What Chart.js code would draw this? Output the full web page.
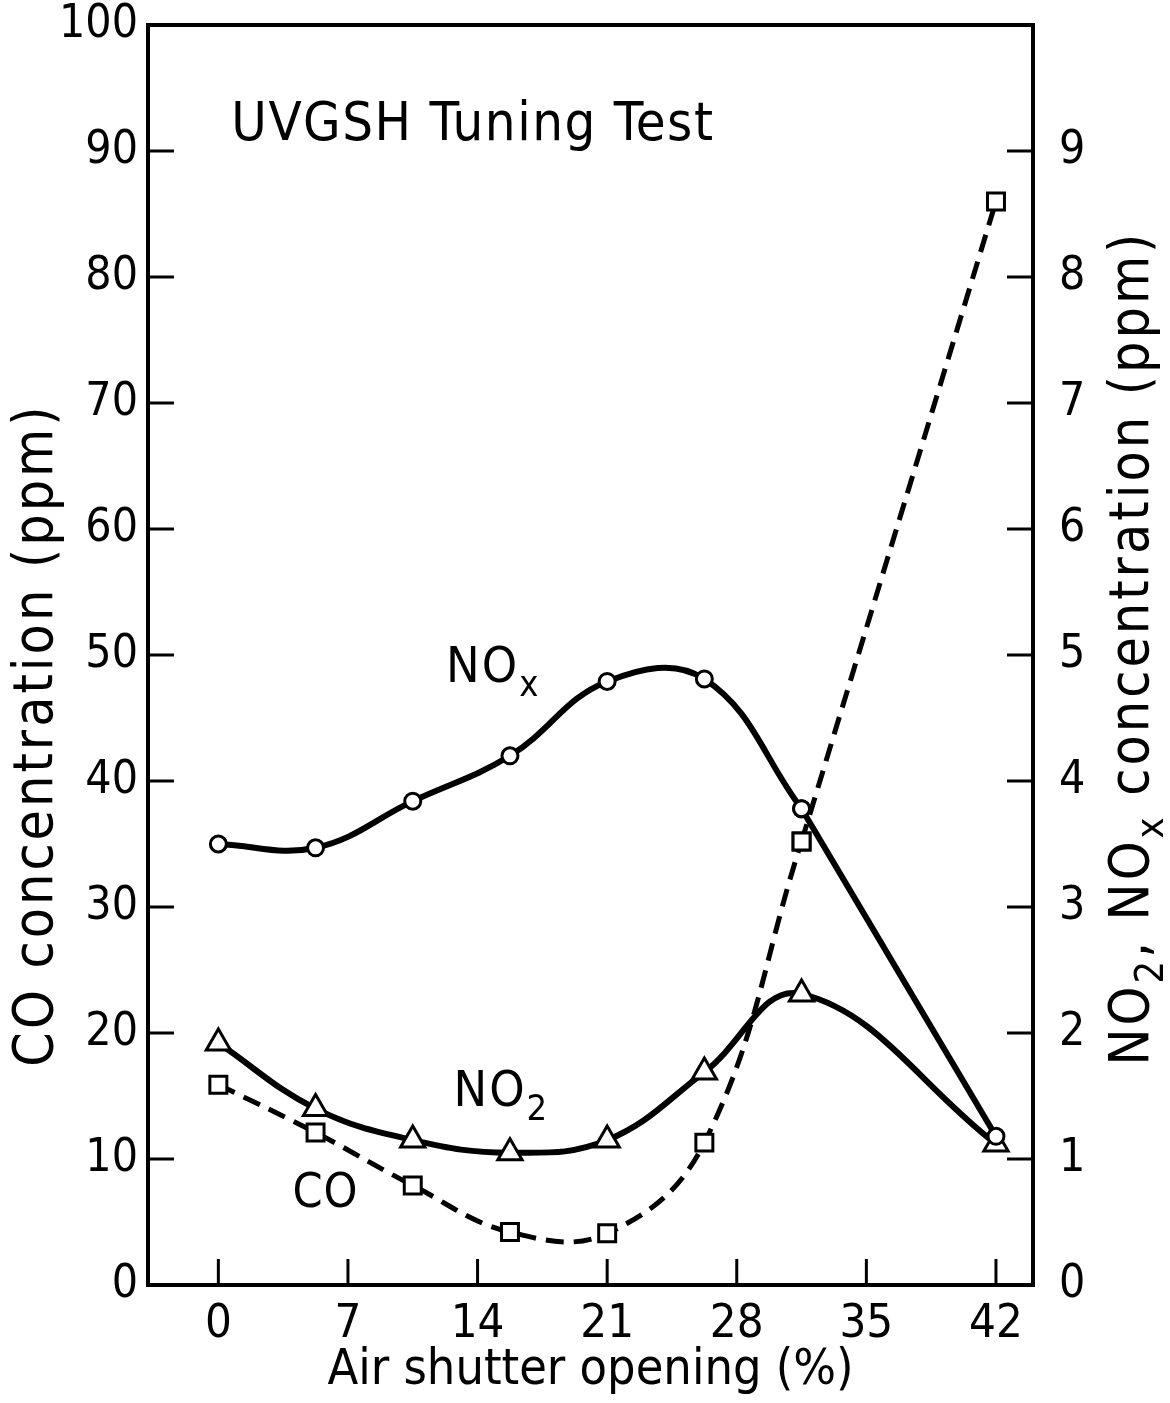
<!DOCTYPE html>
<html>
<head>
<meta charset="utf-8">
<script src="https://cdn.jsdelivr.net/npm/chart.js@4.4.0/dist/chart.umd.min.js"></script>
<style>
  html, body { margin: 0; padding: 0; background: #fff; }
</style>
</head>
<body>
<canvas id="tuningChart" width="1170" height="1403"></canvas>
<script>
// values
const shutterOpening = [0, 5.25, 10.5, 15.75, 21, 26.25, 31.5, 42];
const coPpm  = [15.9, 12.1, 7.9, 4.2, 4.1, 11.3, 35.2, 86.0];
const no2Ppm = [1.92, 1.40, 1.15, 1.05, 1.15, 1.69, 2.31, 1.12];
const noxPpm = [3.50, 3.47, 3.84, 4.20, 4.79, 4.81, 3.78, 1.18];
const xTickValues = [0, 7, 14, 21, 28, 35, 42];

const FONT = "'DejaVu Sans Condensed', 'DejaVu Sans', sans-serif";

function toPoints(xs, ys, from, to) {
  const pts = [];
  for (let i = from; i <= to; i++) pts.push({ x: xs[i], y: ys[i] });
  return pts;
}

const last = shutterOpening.length - 1;

// draws text made of normal and subscript parts
function drawRich(ctx, parts, x, y, size, align, spacing) {
  ctx.textBaseline = 'alphabetic';
  ctx.textAlign = 'left';
  ctx.letterSpacing = (spacing || 0) + 'px';
  let total = 0;
  parts.forEach(p => {
    ctx.font = (p.sub ? size * 0.72 : size) + 'px ' + FONT;
    p.w = ctx.measureText(p.t).width;
    total += p.w;
  });
  let cx = align === 'center' ? x - total / 2 : x;
  parts.forEach(p => {
    ctx.font = (p.sub ? size * 0.72 : size) + 'px ' + FONT;
    ctx.fillText(p.t, cx, p.sub ? y + size * 0.28 : y);
    cx += p.w;
  });
  ctx.letterSpacing = '0px';
}

const framePlugin = {
  id: 'framePlugin',
  beforeDatasetsDraw(chart) {
    const { ctx, chartArea: a, scales } = chart;
    const tickLen = 26;
    ctx.save();
    ctx.strokeStyle = '#000';
    ctx.lineWidth = 4;
    ctx.strokeRect(a.left, a.top, a.right - a.left, a.bottom - a.top);
    ctx.lineWidth = 3;
    ctx.beginPath();
    scales.y.ticks.forEach(t => {
      if (t.value <= scales.y.min || t.value >= scales.y.max) return;
      const py = scales.y.getPixelForValue(t.value);
      ctx.moveTo(a.left, py); ctx.lineTo(a.left + tickLen, py);
    });
    scales.y2.ticks.forEach(t => {
      if (t.value <= scales.y2.min || t.value >= scales.y2.max) return;
      const py = scales.y2.getPixelForValue(t.value);
      ctx.moveTo(a.right, py); ctx.lineTo(a.right - tickLen, py);
    });
    xTickValues.forEach(v => {
      const px = scales.x.getPixelForValue(v);
      ctx.moveTo(px, a.bottom); ctx.lineTo(px, a.bottom - tickLen);
    });
    ctx.stroke();
    ctx.restore();
  },
  afterDraw(chart) {
    const { ctx, scales } = chart;
    ctx.save();
    ctx.fillStyle = '#000';

    // left axis title
    ctx.translate(52, 735);
    ctx.rotate(-Math.PI / 2);
    drawRich(ctx, [{ t: 'CO concentration (ppm)' }], 0, 0, 55, 'center', 3);
    ctx.setTransform(1, 0, 0, 1, 0, 0);

    // right axis title, reads bottom to top
    ctx.translate(1148, 648);
    ctx.rotate(-Math.PI / 2);
    drawRich(ctx, [
      { t: 'NO' }, { t: '2', sub: true }, { t: ', NO' }, { t: 'x', sub: true },
      { t: ' concentration (ppm)' }
    ], 0, 0, 55, 'center', 3);
    ctx.setTransform(1, 0, 0, 1, 0, 0);

    // in-plot labels
    const X = v => scales.x.getPixelForValue(v);
    const Y = v => scales.y.getPixelForValue(v);
    drawRich(ctx, [{ t: 'UVGSH Tuning Test' }], X(0.7), Y(92.5) + 20, 54, 'left', 1.5);
    drawRich(ctx, [{ t: 'NO' }, { t: 'x', sub: true }], X(12.3), Y(49.3) + 18, 50, 'left', 2);
    drawRich(ctx, [{ t: 'NO' }, { t: '2', sub: true }], X(12.7), Y(15.6) + 18, 50, 'left', 2);
    drawRich(ctx, [{ t: 'CO' }], X(4.0), Y(7.6) + 18, 48, 'left', 1);
    ctx.restore();
  }
};

const solid = { borderColor: '#000', borderWidth: 6, pointBackgroundColor: '#fff',
  pointBorderColor: '#000', pointBorderWidth: 3, fill: false };

new Chart(document.getElementById('tuningChart'), {
  type: 'line',
  data: {
    datasets: [
      Object.assign({}, solid, {
        label: 'NOx', yAxisID: 'y2', tension: 0.4,
        data: toPoints(shutterOpening, noxPpm, 0, last - 1),
        pointStyle: 'circle', pointRadius: 8
      }),
      Object.assign({}, solid, {
        label: 'NOx', yAxisID: 'y2', tension: 0,
        data: toPoints(shutterOpening, noxPpm, last - 1, last),
        pointStyle: 'circle', pointRadius: 8
      }),
      Object.assign({}, solid, {
        label: 'NO2', yAxisID: 'y2', tension: 0.4,
        data: toPoints(shutterOpening, no2Ppm, 0, last),
        pointStyle: 'triangle', pointRadius: 14
      }),
      Object.assign({}, solid, {
        label: 'CO', yAxisID: 'y', tension: 0.4, borderWidth: 5, borderDash: [18, 10],
        data: toPoints(shutterOpening, coPpm, 0, last - 1),
        pointStyle: 'rect', pointRadius: 12
      }),
      Object.assign({}, solid, {
        label: 'CO', yAxisID: 'y', tension: 0, borderWidth: 5, borderDash: [18, 10],
        data: toPoints(shutterOpening, coPpm, last - 1, last),
        pointStyle: 'rect', pointRadius: 12
      })
    ]
  },
  options: {
    responsive: false,
    animation: false,
    layout: { padding: { top: 25, left: 0, right: 0, bottom: 0 } },
    plugins: { legend: { display: false }, tooltip: { enabled: false } },
    scales: {
      x: {
        type: 'linear', min: -3.8, max: 44,
        afterBuildTicks: s => { s.ticks = xTickValues.map(v => ({ value: v })); },
        afterFit: s => { s.height = 118; s.paddingLeft = 0; s.paddingRight = 0; },
        grid: { display: false, drawTicks: false },
        border: { display: false },
        ticks: { color: '#000', padding: 12, font: { family: FONT, size: 47 } },
        title: { display: true, text: 'Air shutter opening (%)', color: '#000',
          padding: { top: 0, bottom: 2 }, font: { family: FONT, size: 50 } }
      },
      y: {
        position: 'left', min: 0, max: 100,
        afterFit: s => { s.width = 148; s.paddingTop = 0; s.paddingBottom = 0; },
        grid: { display: false, drawTicks: false },
        border: { display: false },
        ticks: { stepSize: 10, color: '#000', padding: 10, font: { family: FONT, size: 46, lineHeight: 1 } }
      },
      y2: {
        position: 'right', min: 0, max: 10,
        afterFit: s => { s.width = 137; s.paddingTop = 0; s.paddingBottom = 0; },
        grid: { display: false, drawTicks: false },
        border: { display: false },
        ticks: { stepSize: 1, color: '#000', padding: 26, font: { family: FONT, size: 46, lineHeight: 1 },
          callback: v => (v >= 10 ? '' : v) }
      }
    }
  },
  plugins: [framePlugin]
});
</script>
</body>
</html>
